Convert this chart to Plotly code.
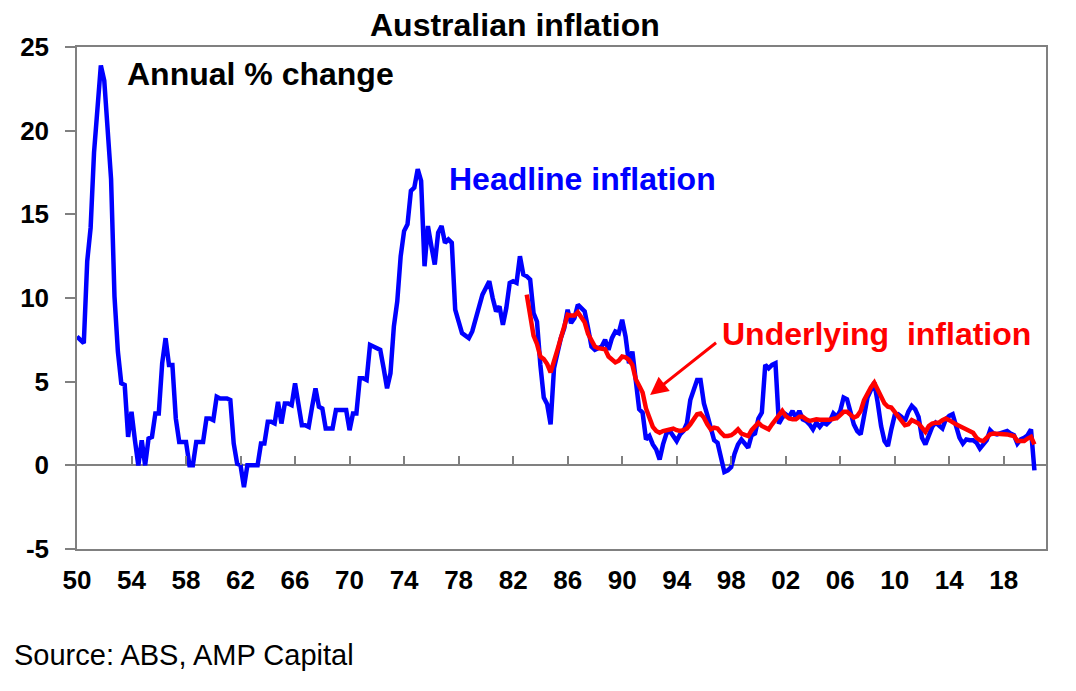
import plotly.graph_objects as go

# Headline CPI, annual % change, quarterly from Mar-1950 to Jun-2020
headline = [
    7.7, 7.5, 7.3, 12.2,      # 1950
    14.2, 18.7, 21.3, 23.9,   # 1951
    23.0, 20.0, 17.1, 10.1,   # 1952
    6.8, 4.9, 4.8, 1.7,       # 1953
    3.2, 1.5, 0.0, 1.5,       # 1954
    0.0, 1.6, 1.7, 3.1,       # 1955
    3.1, 6.1, 7.6, 6.0,       # 1956
    6.0, 2.8, 1.4, 1.4,       # 1957
    1.4, 0.0, 0.0, 1.4,       # 1958
    1.4, 1.4, 2.8, 2.8,       # 1959
    2.7, 4.1, 4.0, 4.0,       # 1960
    4.0, 3.9, 1.3, 0.1,       # 1961
    0.0, -1.3, 0.0, 0.0,      # 1962
    0.0, 0.0, 1.3, 1.3,       # 1963
    2.6, 2.6, 2.5, 3.8,       # 1964
    2.5, 3.7, 3.7, 3.6,       # 1965
    4.9, 3.4, 2.4, 2.4,       # 1966
    2.3, 3.5, 4.6, 3.5,       # 1967
    3.4, 2.2, 2.2, 2.2,       # 1968
    3.3, 3.3, 3.3, 3.3,       # 1969
    2.1, 3.1, 3.1, 5.2,       # 1970
    5.2, 5.1, 7.2, 7.1,       # 1971
    7.0, 6.9, 5.8, 4.6,       # 1972
    5.5, 8.3, 9.8, 12.5,      # 1973
    14.0, 14.4, 16.4, 16.6,   # 1974
    17.7, 17.0, 11.9, 14.3,   # 1975
    13.1, 12.0, 13.9, 14.3,   # 1976
    13.3, 13.5, 13.3, 9.3,    # 1977
    8.6, 7.9, 7.75, 7.6,      # 1978
    8.0, 8.8, 9.5, 10.2,      # 1979
    10.6, 11.0, 10.0, 9.2,    # 1980
    9.5, 8.4, 9.4, 10.9,      # 1981
    11.0, 10.9, 12.5, 11.4,   # 1982
    11.3, 11.1, 9.1, 8.6,     # 1983
    6.0, 4.05, 3.65, 2.45,    # 1984
    5.8, 6.8, 7.6, 8.2,       # 1985
    9.3, 8.5, 8.8, 9.6,       # 1986
    9.4, 9.2, 8.2, 7.1,       # 1987
    6.9, 7.0, 7.1, 7.5,       # 1988
    6.9, 7.6, 8.0, 7.9,       # 1989
    8.7, 7.7, 6.1, 6.8,       # 1990
    4.9, 3.35, 3.15, 1.55,    # 1991
    1.75, 1.25, 0.95, 0.35,   # 1992
    1.25, 1.9, 2.05, 1.8,     # 1993
    1.45, 1.85, 2.05, 2.5,    # 1994
    3.9, 4.5, 5.1, 5.1,       # 1995
    3.7, 3.0, 2.2, 1.5,       # 1996
    1.35, 0.35, -0.4, -0.3,   # 1997
    -0.1, 0.7, 1.25, 1.55,    # 1998
    1.25, 1.05, 1.8, 1.9,     # 1999
    2.8, 3.15, 6.0, 5.8,      # 2000
    6.0, 6.1, 2.5, 2.85,      # 2001
    3.05, 2.9, 3.25, 2.85,    # 2002
    3.25, 2.75, 2.65, 2.45,   # 2003
    2.15, 2.55, 2.3, 2.55,    # 2004
    2.45, 2.65, 3.1, 2.9,     # 2005
    3.25, 4.05, 3.95, 3.15,   # 2006
    2.45, 2.05, 1.85, 2.95,   # 2007
    4.05, 4.5, 4.95, 3.75,    # 2008
    2.35, 1.45, 1.15, 2.15,   # 2009
    3.0, 3.05, 2.9, 2.65,     # 2010
    3.2, 3.55, 3.35, 2.9,     # 2011
    1.65, 1.25, 1.85, 2.3,    # 2012
    2.55, 2.4, 2.2, 2.75,     # 2013
    2.95, 3.05, 2.25, 1.65,   # 2014
    1.3, 1.55, 1.5, 1.5,      # 2015
    1.35, 1.0, 1.25, 1.5,     # 2016
    2.1, 1.9, 1.85, 1.9,      # 2017
    1.95, 2.05, 1.9, 1.8,     # 2018
    1.3, 1.55, 1.65, 1.8,     # 2019
    2.15, -0.3,               # 2020
]
headline_start = 1950.0

# Underlying inflation, annual % change, quarterly from Mar-1983 to Jun-2020
underlying = [
    10.2, 8.9, 7.75, 7.25,    # 1983
    6.5, 6.35, 6.05, 5.55,    # 1984
    6.15, 6.9, 7.6, 8.4,      # 1985
    9.0, 8.95, 8.95, 9.15,    # 1986
    8.85, 8.55, 7.85, 7.4,    # 1987
    7.1, 7.0, 6.95, 6.93,     # 1988
    6.5, 6.3, 6.15, 6.25,     # 1989
    6.5, 6.45, 6.3, 6.0,      # 1990
    5.15, 4.75, 4.35, 3.4,    # 1991
    2.9, 2.3, 2.05, 1.95,     # 1992
    2.05, 2.1, 2.15, 2.2,     # 1993
    2.1, 2.05, 2.1, 2.2,      # 1994
    2.45, 2.75, 3.05, 3.1,    # 1995
    2.85, 2.45, 2.15, 2.25,   # 1996
    2.2, 1.95, 1.75, 1.75,    # 1997
    1.8, 1.95, 2.15, 1.9,     # 1998
    1.8, 1.75, 2.1, 2.3,      # 1999
    2.55, 2.35, 2.25, 2.15,   # 2000
    2.45, 2.75, 3.05, 3.25,   # 2001
    2.95, 2.8, 2.75, 2.75,    # 2002
    2.9, 2.9, 2.75, 2.65,     # 2003
    2.7, 2.75, 2.72, 2.7,     # 2004
    2.7, 2.72, 2.78, 2.82,    # 2005
    3.0, 3.2, 3.2, 3.0,       # 2006
    2.85, 2.95, 3.25, 3.9,    # 2007
    4.35, 4.65, 4.94, 4.5,    # 2008
    4.1, 3.7, 3.5, 3.45,      # 2009
    3.2, 2.9, 2.65, 2.4,      # 2010
    2.45, 2.7, 2.6, 2.5,      # 2011
    2.25, 2.0, 2.35, 2.5,     # 2012
    2.55, 2.55, 2.7, 2.8,     # 2013
    2.7, 2.55, 2.45, 2.35,    # 2014
    2.25, 2.2, 2.1, 1.95,     # 2015
    1.65, 1.5, 1.45, 1.65,    # 2016
    1.85, 1.9, 1.9, 1.9,      # 2017
    1.9, 1.85, 1.8, 1.75,     # 2018
    1.45, 1.45, 1.45, 1.6,    # 2019
    1.7, 1.25,                # 2020
]
underlying_start = 1983.0

tick_years = list(range(1950, 2019, 4))
tick_labels = [f"{y % 100:02d}" for y in tick_years]
y_ticks = [-5, 0, 5, 10, 15, 20, 25]
y_labels = ["-5", "0", "5", "10", "15", "20", "25"]

hx = [headline_start + i / 4 for i in range(len(headline))]
ux = [underlying_start + i / 4 for i in range(len(underlying))]

FONT = "Liberation Sans, Arial, sans-serif"
GRID = "#808080"
XR = [1950, 2021.1]

fig = go.Figure()
fig.add_trace(go.Scatter(x=hx, y=headline, mode="lines",
                         line=dict(color="#0000FF", width=4.5),
                         name="Headline inflation", showlegend=False))
fig.add_trace(go.Scatter(x=ux, y=underlying, mode="lines", xaxis="x2",
                         line=dict(color="#FF0000", width=4.5),
                         name="Underlying inflation", showlegend=False))

# page body has an 8px margin, so the figure is sized to fit the window
fig.update_layout(
    width=1060, height=675,
    paper_bgcolor="white", plot_bgcolor="white",
    margin=dict(l=69, r=22, t=39, b=134, pad=0, autoexpand=False),
    font=dict(family=FONT, color="black"),
    xaxis=dict(range=XR, tickvals=tick_years, ticktext=tick_labels,
               tickfont=dict(size=26, weight=700, family=FONT),
               showgrid=False, zeroline=False, automargin=False,
               showline=True, linecolor=GRID, linewidth=1.5, mirror=True,
               ticks="outside", ticklen=7, tickcolor="rgba(0,0,0,0)"),
    xaxis2=dict(range=XR, overlaying="x", anchor="free", position=5 / 30,
                side="bottom", tickvals=tick_years[1:], showticklabels=False,
                ticks="inside", ticklen=9, tickwidth=1.5, tickcolor=GRID,
                showline=False, showgrid=False, zeroline=False,
                automargin=False),
    yaxis=dict(range=[-5, 25], tickvals=y_ticks, ticktext=y_labels,
               tickfont=dict(size=26, weight=700, family=FONT),
               showgrid=False, zeroline=True, zerolinecolor=GRID,
               zerolinewidth=1.5, automargin=False,
               showline=True, linecolor=GRID, linewidth=1.5, mirror=True,
               ticks="outside", ticklen=10, tickwidth=1.5, tickcolor=GRID,
               ticklabelstandoff=11),
)

fig.add_annotation(xref="paper", yref="paper", x=0.452, y=1.044,
                   text="<b>Australian inflation</b>", showarrow=False,
                   font=dict(size=32, color="black"),
                   xanchor="center", yanchor="middle")
fig.add_annotation(x=1953.5, y=23.4, text="<b>Annual % change</b>",
                   showarrow=False, font=dict(size=32, color="black"),
                   xanchor="left", yanchor="middle")
fig.add_annotation(x=1977.15, y=17.1, text="<b>Headline inflation</b>",
                   showarrow=False, font=dict(size=32, color="#0000FF"),
                   xanchor="left", yanchor="middle")
fig.add_annotation(x=1997.15, y=7.85, text="<b>Underlying  inflation</b>",
                   showarrow=False, font=dict(size=32, color="#FF0000"),
                   xanchor="left", yanchor="middle")
fig.add_annotation(x=1992.05, y=4.2, ax=1997.0, ay=7.4,
                   axref="x", ayref="y", text="", showarrow=True,
                   arrowhead=2, arrowsize=1.2, arrowwidth=3,
                   arrowcolor="#FF0000")
fig.add_annotation(xref="paper", yref="paper", x=-0.067, y=-0.211,
                   text="Source: ABS, AMP Capital", showarrow=False,
                   font=dict(size=29, color="black"),
                   xanchor="left", yanchor="middle")

fig.write_html("out.html")
